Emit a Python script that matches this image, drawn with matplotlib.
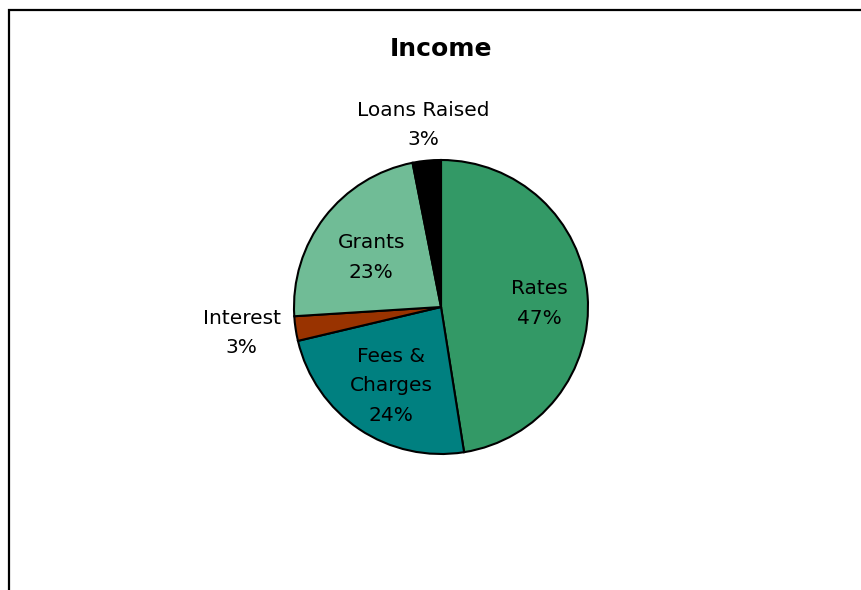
import numpy as np
import matplotlib
matplotlib.use('Agg')
from matplotlib import pyplot as plt
from matplotlib.patches import Rectangle

# income shares (percent), clockwise from 12 o'clock
categories = ['Rates', 'Fees &\nCharges', 'Interest', 'Grants', 'Loans Raised']
shares = [47.49, 23.81, 2.7, 22.9, 3.1]
colors = ['#339966', '#008080', '#993300', '#70bc96', '#000000']
label_dist = [0.67, 0.61, 1.37, 0.6, 1.22]

plt.rcParams['font.family'] = ['DejaVu Sans']

fig = plt.figure(figsize=(8.61, 5.9), dpi=100)
W, H = 861.0, 590.0

# chart frame (cut off on right and bottom as in the source)
top = 1 - 9.5 / H
fig.add_artist(Rectangle((8.5 / W, -0.5), 1.5, top + 0.5,
                         transform=fig.transFigure, fill=False,
                         edgecolor='black', linewidth=1.6))

cx, cy, r = 441, 307, 147
ax = fig.add_axes([(cx - r) / W, (H - cy - r) / H, 2 * r / W, 2 * r / H])
wedges, _ = ax.pie(shares, colors=colors, startangle=90, counterclock=False,
                   wedgeprops=dict(edgecolor='black', linewidth=1.5))
ax.set_xlim(-1, 1)
ax.set_ylim(-1, 1)
ax.set_aspect('equal')
ax.axis('off')

total = float(sum(shares))
for w, name, val, d in zip(wedges, categories, shares, label_dist):
    mid = np.deg2rad((w.theta1 + w.theta2) / 2.0)
    x, y = d * np.cos(mid), d * np.sin(mid)
    if d < 1:
        y -= 0.03
    else:
        y += 0.025
    ax.text(x, y, '%s\n%d%%' % (name, round(100 * val / total)),
            ha='center', va='center', fontsize=14.5, linespacing=1.7)

fig.text(cx / W, 1 - 49 / H, 'Income', ha='center', va='center',
         fontsize=18, fontweight='bold')

fig.savefig('out.png', dpi=100)
